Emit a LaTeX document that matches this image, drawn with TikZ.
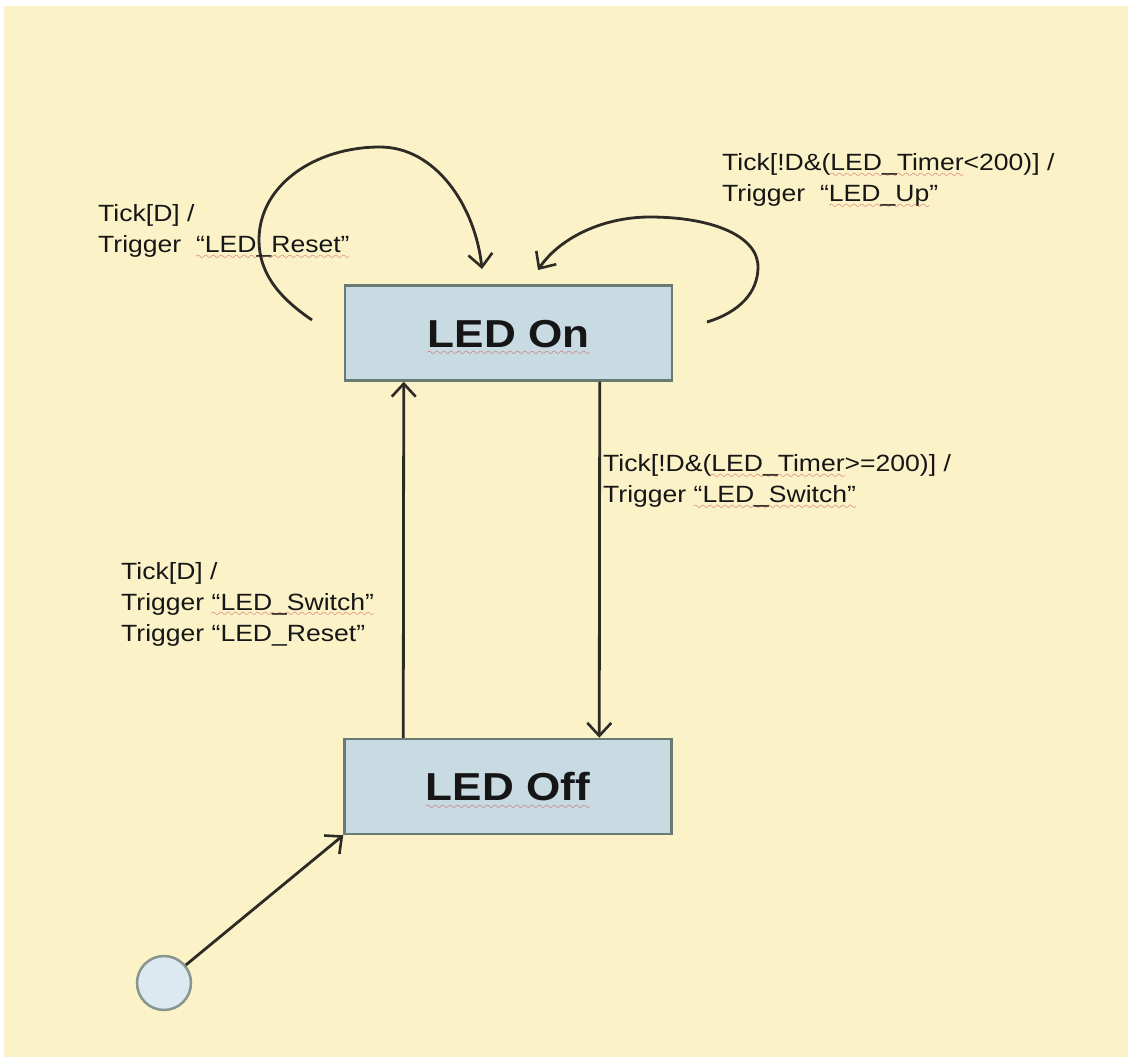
\documentclass[tikz,border=0pt]{standalone}
\usepackage{fontspec}
\usetikzlibrary{arrows.meta}
\setmainfont{Liberation Sans}
\newfontfamily\lblfont[FakeStretch=1.13]{Liberation Sans}
\font\wavefnt=lasy10 at 11pt
\definecolor{bgyellow}{HTML}{FBF3C7}
\definecolor{boxfill}{HTML}{C8DBE3}
\definecolor{boxdraw}{HTML}{687A72}
\definecolor{initfill}{HTML}{DDE9F1}
\definecolor{linecol}{HTML}{2E2B26}
\definecolor{textcol}{HTML}{161616}
\definecolor{wavered}{HTML}{CC4C4C}
\newsavebox\wavybox
% red wavy (spell-check) underline below the text
\newcommand\wavy[2][6.5pt]{\sbox\wavybox{#2}\rlap{\raisebox{-#1}[0pt][0pt]{\textcolor{wavered}{\hbox to \wd\wavybox{\xleaders\hbox{\wavefnt\char58}\hfil}}}}\usebox\wavybox}
\begin{document}
\begin{tikzpicture}[x=1pt,y=-1pt,
  statebox/.style={draw=boxdraw, line width=2.5pt, fill=boxfill, rectangle,
    minimum width=327pt, minimum height=95pt, inner sep=0pt,
    text height=28pt, text depth=0pt, text=textcol,
    font=\lblfont\bfseries\fontsize{39}{44}\selectfont},
  initstate/.style={draw=boxdraw!80, line width=2.5pt, fill=initfill, circle,
    minimum size=54pt, inner sep=0pt},
  lbl/.style={anchor=west, inner sep=0pt, align=left, text=textcol,
    font=\lblfont\fontsize{23.5}{31}\selectfont},
  arr/.style={draw=linecol, line width=2.8pt,
    -{Straight Barb[length=13pt,width=24pt,line width=2.6pt]}}
]
\useasboundingbox (0,0) rectangle (1128,1058);
\fill[bgyellow] (4,6) rectangle (1128,1057);

% states
\node[statebox] (on) at (508.5,333) {\wavy[8.5pt]{LED On}};
\node[statebox] (off) at (508,786.5) {\wavy[8.5pt]{LED Off}};
\node[initstate] (init) at (164,983) {};

% loop end points
\coordinate (ls) at (312,320);
\coordinate (lt) at (482,269);
\coordinate (rs) at (707,322);
\coordinate (rt) at (538,270);

% connectors
\draw[arr] (init) -- (off.south west);
\draw[arr] ([xshift=60pt]off.north west) -- ([xshift=60pt]on.south west);
\draw[arr] ([xshift=256pt]on.south west) -- ([xshift=256pt]off.north west);
\draw[arr] (ls) .. controls (275,295) and (259,270) .. (259,240)
  .. controls (259,185) and (315,147) .. (380,147)
  .. controls (435,147) and (475,205) .. (lt);
\draw[arr] (rs) .. controls (740,312) and (758,292) .. (758,267)
  .. controls (758,235) and (710,217) .. (650,217)
  .. controls (600,217) and (558,240) .. (rt);

% labels
\node[lbl] (lab1) at (98,231) {Tick[D] /\\Trigger \ \wavy{“LED\_Reset”}};
\node[lbl] (lab2) at (722,180) {Tick[!D\&(\wavy{LED\_Timer}<200)] /\\Trigger \ “\wavy{LED\_Up}”};
\node[lbl] (lab3) at (603,481) {Tick[!D\&(\wavy{LED\_Timer}>=200)] /\\Trigger \wavy{“LED\_Switch”}};
\node[lbl] (lab4) at (121,604) {Tick[D] /\\Trigger \wavy{“LED\_Switch”}\\Trigger “LED\_Reset”};
\end{tikzpicture}
\end{document}
